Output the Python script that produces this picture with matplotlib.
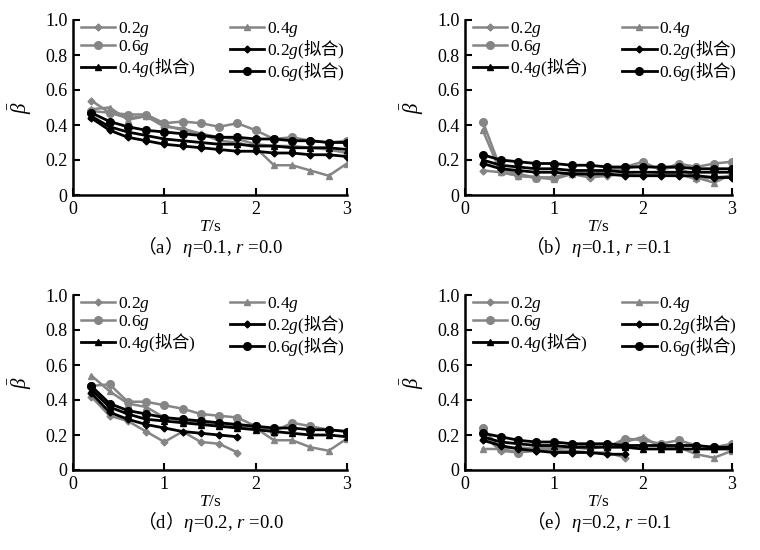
import matplotlib
matplotlib.use("Agg")
import matplotlib.pyplot as plt

# serif text, italic math letters in Liberation Serif, Chinese through \mathsf
plt.rcParams["font.family"] = ["Liberation Serif", "Noto Sans CJK SC"]
plt.rcParams["mathtext.fontset"] = "custom"
plt.rcParams["mathtext.rm"] = "Liberation Serif"
plt.rcParams["mathtext.it"] = "Liberation Serif:italic"
plt.rcParams["mathtext.bf"] = "Liberation Serif:bold"
plt.rcParams["mathtext.sf"] = "Noto Sans CJK SC"

T = [0.2, 0.4, 0.6, 0.8, 1.0, 1.2, 1.4, 1.6, 1.8, 2.0, 2.2, 2.4, 2.6, 2.8, 3.0]

# (a) eta=0.1, r=0.0
a_02 = [0.54, 0.47, 0.44, 0.45, 0.39, 0.38, 0.35, 0.33, 0.32, 0.29, 0.28, 0.28, 0.27, 0.26, 0.24]
a_04 = [0.49, 0.50, 0.43, 0.45, 0.40, 0.37, 0.35, 0.31, 0.30, 0.27, 0.17, 0.17, 0.14, 0.11, 0.18]
a_06 = [0.48, 0.47, 0.46, 0.46, 0.41, 0.42, 0.41, 0.39, 0.41, 0.37, 0.32, 0.33, 0.31, 0.30, 0.31]
a_02_fit = [0.44, 0.37, 0.33, 0.31, 0.29, 0.28, 0.27, 0.26, 0.25, 0.25, 0.24, 0.24, 0.23, 0.23, 0.22]
a_04_fit = [0.45, 0.39, 0.36, 0.34, 0.32, 0.31, 0.30, 0.29, 0.29, 0.28, 0.28, 0.27, 0.27, 0.27, 0.26]
a_06_fit = [0.47, 0.42, 0.39, 0.37, 0.36, 0.35, 0.34, 0.33, 0.33, 0.32, 0.32, 0.31, 0.31, 0.30, 0.30]

# (b) eta=0.1, r=0.1
b_02 = [0.14, 0.13, 0.11, 0.10, 0.10, 0.12, 0.10, 0.11, 0.12, 0.11, 0.12, 0.12, 0.09, 0.10, 0.11]
b_04 = [0.37, 0.13, 0.11, 0.10, 0.09, 0.12, 0.11, 0.13, 0.15, 0.17, 0.15, 0.16, 0.10, 0.07, 0.12]
b_06 = [0.42, 0.15, 0.12, 0.10, 0.10, 0.13, 0.12, 0.14, 0.16, 0.19, 0.14, 0.18, 0.16, 0.18, 0.19]
b_02_fit = [0.18, 0.15, 0.14, 0.13, 0.13, 0.12, 0.12, 0.12, 0.11, 0.11, 0.11, 0.11, 0.11, 0.10, 0.10]
b_04_fit = [0.20, 0.17, 0.16, 0.15, 0.15, 0.14, 0.14, 0.14, 0.13, 0.13, 0.13, 0.13, 0.13, 0.13, 0.13]
b_06_fit = [0.23, 0.20, 0.19, 0.18, 0.18, 0.17, 0.17, 0.16, 0.16, 0.16, 0.16, 0.16, 0.15, 0.15, 0.15]

# (d) eta=0.2, r=0.0
d_02 = [0.42, 0.31, 0.28, 0.22, 0.16, 0.22, 0.16, 0.15, 0.10]
d_04 = [0.54, 0.45, 0.38, 0.36, 0.30, 0.28, 0.27, 0.26, 0.25, 0.24, 0.17, 0.17, 0.13, 0.11, 0.18]
d_06 = [0.48, 0.49, 0.39, 0.39, 0.37, 0.35, 0.32, 0.31, 0.30, 0.25, 0.22, 0.27, 0.25, 0.23, 0.22]
d_02_fit = [0.44, 0.33, 0.29, 0.26, 0.24, 0.22, 0.21, 0.20, 0.19]
d_04_fit = [0.46, 0.36, 0.32, 0.29, 0.28, 0.27, 0.26, 0.25, 0.24, 0.23, 0.22, 0.21, 0.20, 0.20, 0.19]
d_06_fit = [0.48, 0.38, 0.34, 0.32, 0.30, 0.29, 0.28, 0.27, 0.26, 0.25, 0.24, 0.24, 0.23, 0.23, 0.22]

# (e) eta=0.2, r=0.1
e_02 = [0.20, 0.11, 0.10, 0.11, 0.11, 0.11, 0.10, 0.10, 0.07]
e_04 = [0.12, 0.12, 0.13, 0.12, 0.12, 0.13, 0.12, 0.14, 0.16, 0.19, 0.13, 0.13, 0.09, 0.07, 0.11]
e_06 = [0.24, 0.12, 0.10, 0.13, 0.13, 0.14, 0.14, 0.13, 0.18, 0.17, 0.15, 0.17, 0.14, 0.13, 0.15]
e_02_fit = [0.17, 0.14, 0.12, 0.11, 0.10, 0.10, 0.10, 0.09, 0.09]
e_04_fit = [0.19, 0.16, 0.15, 0.14, 0.14, 0.13, 0.13, 0.13, 0.13, 0.12, 0.12, 0.12, 0.12, 0.12, 0.12]
e_06_fit = [0.21, 0.19, 0.17, 0.16, 0.16, 0.15, 0.15, 0.15, 0.14, 0.14, 0.14, 0.14, 0.14, 0.13, 0.13]

panel_ids = ["a", "b", "d", "e"]
etas = ["0.1", "0.1", "0.2", "0.2"]
rs = ["0.0", "0.1", "0.0", "0.1"]

FIT = "($\\mathsf{拟合}$)"
GRAY = "#858585"


def draw_panel(ax, s02, s04, s06, f02, f04, f06, caption):
    h1, = ax.plot(T[:len(s02)], s02, color=GRAY, lw=1.8, marker="D", ms=3.5, label="0.2$g$")
    h2, = ax.plot(T, s04, color=GRAY, lw=1.8, marker="^", ms=5, label="0.4$g$")
    h3, = ax.plot(T, s06, color=GRAY, lw=1.8, marker="o", ms=5.5, label="0.6$g$")
    h4, = ax.plot(T[:len(f02)], f02, color="black", lw=2, marker="D", ms=3.5, label="0.2$g$" + FIT)
    h5, = ax.plot(T, f04, color="black", lw=2, marker="^", ms=5, label="0.4$g$" + FIT)
    h6, = ax.plot(T, f06, color="black", lw=2, marker="o", ms=5.5, label="0.6$g$" + FIT)

    ax.set_xlim(0, 3)
    ax.set_ylim(0, 1.0)
    ax.set_xticks([0, 1, 2, 3])
    ax.set_xticklabels(["0", "1", "2", "3"])
    ax.set_yticks([0, 0.2, 0.4, 0.6, 0.8, 1.0])
    ax.set_yticklabels(["0", "0.2", "0.4", "0.6", "0.8", "1.0"])
    ax.tick_params(direction="in", length=5, width=1.5, labelsize=13, pad=4)
    for side in ["top", "right"]:
        ax.spines[side].set_visible(False)
    for side in ["left", "bottom"]:
        ax.spines[side].set_linewidth(1.8)

    ax.set_xlabel("$T$/s", fontsize=12.5, labelpad=1)
    ax.set_ylabel("$\\bar{\\beta}$", fontsize=15, labelpad=8)

    handles = [h1, h3, h5, h2, h4, h6]
    ax.legend(handles, [h.get_label() for h in handles],
              ncol=2, loc="upper left", bbox_to_anchor=(-0.01, 1.06),
              frameon=False, fontsize=12.5, handlelength=2.0,
              handletextpad=0.15, labelspacing=-0.05, columnspacing=1.95,
              borderaxespad=0.2)

    ax.text(0.5, -0.225, caption, transform=ax.transAxes, ha="center",
            va="top", fontsize=13.5)


fig = plt.figure(figsize=(7.6, 5.5), dpi=100)

W, H = 760, 550
boxes = [(73, 20, 347, 195), (465, 20, 732, 195),
         (73, 295, 347, 470), (465, 295, 732, 470)]
series = [
    (a_02, a_04, a_06, a_02_fit, a_04_fit, a_06_fit),
    (b_02, b_04, b_06, b_02_fit, b_04_fit, b_06_fit),
    (d_02, d_04, d_06, d_02_fit, d_04_fit, d_06_fit),
    (e_02, e_04, e_06, e_02_fit, e_04_fit, e_06_fit),
]

for i, ((x0, y0, x1, y1), data) in enumerate(zip(boxes, series)):
    cap = ("$\\mathsf{（}$" + panel_ids[i] + "$\\mathsf{）}\\eta$=" + etas[i]
           + ", $r$ =" + rs[i])
    ax = fig.add_axes([x0 / W, 1 - y1 / H, (x1 - x0) / W, (y1 - y0) / H])
    draw_panel(ax, *data, cap)

fig.savefig("out.png", dpi=100)
